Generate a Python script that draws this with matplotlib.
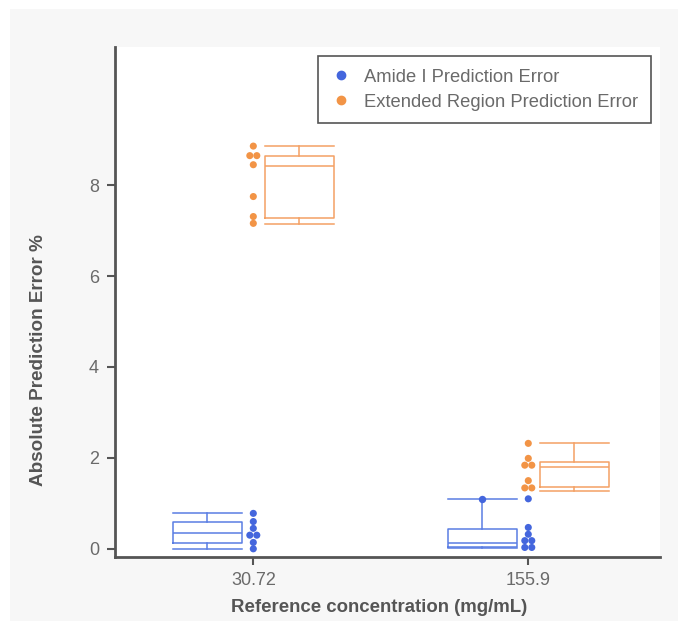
import matplotlib
matplotlib.use("Agg")
import matplotlib.pyplot as plt
from matplotlib.patches import Rectangle
from matplotlib.lines import Line2D
import numpy as np

plt.rcParams['font.family'] = ['Liberation Sans', 'DejaVu Sans']

categories = ["30.72", "155.9"]
series_names = ["Amide I Prediction Error", "Extended Region Prediction Error"]

# individual points
amide_points = [
    [0.78, 0.60, 0.45, 0.30, 0.30, 0.14, 0.00],
    [1.10, 0.47, 0.32, 0.18, 0.18, 0.03, 0.03],
]
extended_points = [
    [8.86, 8.65, 8.65, 8.45, 7.75, 7.31, 7.16],
    [2.32, 1.99, 1.84, 1.84, 1.50, 1.34, 1.34],
]

# box statistics: whislo, q1, med, q3, whishi
amide_whislo = [0.00, 0.01]
amide_q1 = [0.12, 0.03]
amide_med = [0.35, 0.12]
amide_q3 = [0.60, 0.43]
amide_whishi = [0.78, 1.10]
amide_fliers = [[], [1.10]]

ext_whislo = [7.14, 1.28]
ext_q1 = [7.27, 1.37]
ext_med = [8.43, 1.79]
ext_q3 = [8.65, 1.90]
ext_whishi = [8.86, 2.32]
ext_fliers = [[], []]

yticks = [0, 2, 4, 6, 8]

blue = "#4466dd"
blue_box = "#5a7de3"
orange = "#f29446"
orange_box = "#f4a164"
spine_c = "#555555"
text_c = "#6a6a6a"

fig = plt.figure(figsize=(6.78, 6.21), dpi=100, facecolor="white")
fig.patches.append(Rectangle((10 / 678, 0), 1 - 10 / 678, 1 - 9 / 621,
                             transform=fig.transFigure, facecolor="#f7f7f7",
                             edgecolor="none", zorder=-10))
ax = fig.add_axes([115 / 678, 1 - 557 / 621, (660 - 115) / 678, (557 - 47) / 621])
ax.set_facecolor("white")
ax.set_xlim(-0.503, 1.479)
ax.set_ylim(-0.18, 11.04)

x = np.arange(len(categories))
offset = 0.167
bw = 0.25


def stats(wl, q1, md, q3, wh, fl):
    return [dict(whislo=a, q1=b, med=c, q3=d, whishi=e, fliers=f)
            for a, b, c, d, e, f in zip(wl, q1, md, q3, wh, fl)]


for st, pos, col in [
    (stats(amide_whislo, amide_q1, amide_med, amide_q3, amide_whishi, amide_fliers), x - offset, blue_box),
    (stats(ext_whislo, ext_q1, ext_med, ext_q3, ext_whishi, ext_fliers), x + offset, orange_box),
]:
    lp = dict(color=col, linewidth=1.1)
    ax.bxp(st, positions=pos, widths=bw, showfliers=True, patch_artist=False,
           boxprops=lp, whiskerprops=lp, capprops=lp, medianprops=lp,
           capwidths=bw,
           flierprops=dict(marker='o', markerfacecolor=blue, markeredgewidth=0,
                           markersize=5.3, linestyle='none'),
           manage_ticks=False)

# convert pixel spacing to data units for the swarm
fig.canvas.draw()
bb = ax.get_window_extent()
px_per_unit = bb.width / (ax.get_xlim()[1] - ax.get_xlim()[0])
spacing = 7.0 / px_per_unit


def swarm(center, vals):
    vals = np.asarray(vals)
    xs = np.zeros_like(vals, dtype=float)
    for v in np.unique(vals):
        idx = np.where(vals == v)[0]
        n = len(idx)
        for k, i in enumerate(idx):
            xs[i] = center + (k - (n - 1) / 2) * spacing
    return xs


for i in range(len(categories)):
    ax.scatter(swarm(x[i], amide_points[i]), amide_points[i], s=26, color=blue,
               edgecolors="none", zorder=3)
    ax.scatter(swarm(x[i], extended_points[i]), extended_points[i], s=26, color=orange,
               edgecolors="none", zorder=3)

ax.set_xticks(x)
ax.set_xticklabels(categories)
ax.set_yticks(yticks)
ax.tick_params(axis='both', colors=spine_c, width=1.5, length=5.5, labelsize=13,
               labelcolor=text_c)
ax.tick_params(axis='x', pad=5)
ax.tick_params(axis='y', pad=6)
for s in ["top", "right"]:
    ax.spines[s].set_visible(False)
for s in ["left", "bottom"]:
    ax.spines[s].set_color(spine_c)
    ax.spines[s].set_linewidth(2.0)

ax.set_xlabel("Reference concentration (mg/mL)", fontsize=13.4, fontweight="bold",
              color=spine_c)
ax.set_ylabel("Absolute Prediction Error %", fontsize=13.6, fontweight="bold",
              color=spine_c)
ax.xaxis.set_label_coords(0.484, -0.083)
ax.yaxis.set_label_coords(-0.125, 0.386)

handles = [Line2D([], [], marker='o', linestyle='none', color=blue, markersize=6),
           Line2D([], [], marker='o', linestyle='none', color=orange, markersize=6)]
leg = ax.legend(handles, series_names, loc="upper right", fontsize=13.2,
                frameon=True, fancybox=False, framealpha=1, edgecolor=spine_c,
                handlelength=1.15, handletextpad=0.68, borderpad=0.68,
                labelspacing=0.45, borderaxespad=0.5)
leg.get_frame().set_linewidth(1.2)
for t in leg.get_texts():
    t.set_color(text_c)

fig.savefig("out.png", dpi=100, facecolor="white")
